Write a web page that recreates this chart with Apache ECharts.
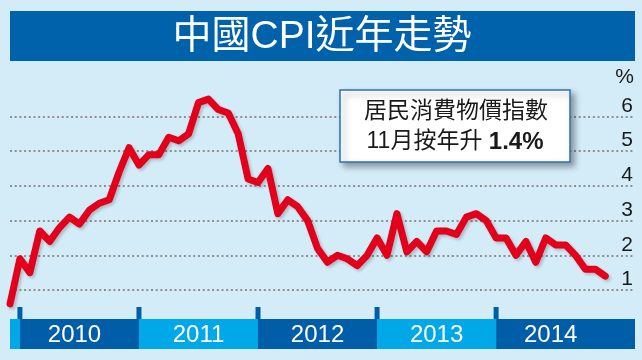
<!DOCTYPE html>
<html><head><meta charset="utf-8">
<script src="https://cdn.jsdelivr.net/npm/echarts@6/dist/echarts.min.js"></script>
<style>html,body{margin:0;padding:0;background:#d4ebf8}#c{width:642px;height:360px}</style>
</head><body><div id="c"></div>
<script>
// ---- data ----
const firstMonth = '2009-11';
const lastAxisMonth = '2015-02';
const cpi = [
  0.6, 1.9,
  1.5, 2.7, 2.4, 2.8, 3.1, 2.9, 3.3, 3.5, 3.6, 4.4, 5.1, 4.6,
  4.9, 4.9, 5.4, 5.3, 5.5, 6.4, 6.5, 6.2, 6.1, 5.5, 4.2, 4.1,
  4.5, 3.2, 3.6, 3.4, 3.0, 2.2, 1.8, 2.0, 1.9, 1.7, 2.0, 2.5,
  2.0, 3.2, 2.1, 2.4, 2.1, 2.7, 2.7, 2.6, 3.1, 3.2, 3.0, 2.5,
  2.5, 2.0, 2.4, 1.8, 2.5, 2.3, 2.3, 2.0, 1.6, 1.6, 1.4
];
const yTickLabels = [1, 2, 3, 4, 5, 6];
const bandFrom   = ['2009-11', '2009-12', '2010-12', '2011-12', '2012-12', '2013-12'];
const bandTo     = ['2009-12', '2010-12', '2011-12', '2012-12', '2013-12', '2015-02'];
const bandLabels = ['', '2010', '2011', '2012', '2013', '2014'];
const labelFrom  = ['2009-11', '2009-11', '2010-12', '2011-12', '2012-12', '2013-12'];
const labelTo    = ['2009-12', '2010-12', '2011-12', '2012-12', '2013-12', '2014-11'];
const tickMonths = ['2009-12', '2010-12', '2011-12', '2012-12', '2013-12'];
const titleText = '中國CPI近年走勢';
const noteLine1 = '居民消費物價指數';
const noteLine2 = '11月按年升 ';
const noteValue = '1.4%';
const unitText = '%';

function monthRange(a, b) {
  let [y, m] = a.split('-').map(Number);
  const [by, bm] = b.split('-').map(Number);
  const out = [];
  while (y < by || (y === by && m <= bm)) {
    out.push(y + '-' + String(m).padStart(2, '0'));
    m++; if (m > 12) { m = 1; y++; }
  }
  return out;
}
const months = monthRange(firstMonth, lastAxisMonth);
const idx = s => months.indexOf(s);

const bandData = bandFrom.map((f, i) => [idx(f), idx(bandTo[i]), idx(labelFrom[i]), idx(labelTo[i])]);
const tickData = tickMonths.map(s => [idx(s), 1]);

const LAT = 'Liberation Sans, Arial, Noto Sans CJK TC, sans-serif';
const chart = echarts.init(document.getElementById('c'), null, {renderer: 'canvas'});
const DARK = '#005da7', LIGHT = '#00a8e8';

chart.setOption({
  backgroundColor: '#d4ebf8',
  animation: false,
  grid: [
    {left: 10, right: 7, top: 81.8, bottom: 35.3},
    {left: 10, right: 7, top: 319, height: 30}
  ],
  xAxis: [
    {type: 'category', data: months, boundaryGap: false, gridIndex: 0,
     axisLine: {show: false}, axisTick: {show: false}, axisLabel: {show: false}, splitLine: {show: false}},
    {type: 'category', data: months, boundaryGap: false, gridIndex: 1, show: false}
  ],
  yAxis: [
    {type: 'value', gridIndex: 0, min: 0, max: 7, interval: 1, position: 'right',
     axisLine: {show: false}, axisTick: {show: false},
     name: unitText, nameLocation: 'end', nameGap: 5,
     nameTextStyle: {fontFamily: LAT, fontSize: 21, color: '#1a1a1a', align: 'right', verticalAlign: 'middle', padding: [0, 1, 0, 0]},
     axisLabel: {inside: true, margin: 2, fontFamily: LAT, fontSize: 21, color: '#1a1a1a',
       verticalAlign: 'bottom', showMinLabel: false, showMaxLabel: false,
       formatter: v => yTickLabels.includes(v) ? String(v) : ''},
     splitLine: {show: true, showMinLine: false, showMaxLine: false,
       lineStyle: {color: '#8f8f8f', width: 2, type: [2, 2.7]}}},
    {type: 'value', gridIndex: 1, min: 0, max: 1, show: false}
  ],
  series: [
    {type: 'line', xAxisIndex: 0, yAxisIndex: 0, data: cpi, symbol: 'none', z: 5,
     lineStyle: {color: '#e3001b', width: 7, cap: 'round', join: 'round',
       shadowColor: 'rgba(0,0,0,0.2)', shadowBlur: 3, shadowOffsetX: 2, shadowOffsetY: 2}},
    {type: 'custom', xAxisIndex: 1, yAxisIndex: 1, data: bandData, silent: true,
     encode: {x: [0, 1]},
     renderItem: (params, api) => {
       const i = params.dataIndex;
       const x0 = api.coord([api.value(0), 0])[0];
       const x1 = api.coord([api.value(1), 0])[0];
       const lx0 = api.coord([api.value(2), 0])[0];
       const lx1 = api.coord([api.value(3), 0])[0];
       const top = api.coord([0, 1])[1];
       const bot = api.coord([0, 0])[1];
       return {type: 'group', children: [
         {type: 'rect', shape: {x: x0, y: top, width: x1 - x0, height: bot - top},
          style: {fill: bandLabels[i] && (i % 2 === 1) ? DARK : LIGHT}},
         {type: 'text', style: {text: bandLabels[i], x: (lx0 + lx1) / 2, y: (top + bot) / 2 + 1,
          align: 'center', verticalAlign: 'middle', fill: '#fff', font: '24px ' + LAT}}
       ]};
     }},
    {type: 'custom', xAxisIndex: 1, yAxisIndex: 1, data: tickData, silent: true,
     encode: {x: 0, y: 1},
     renderItem: (params, api) => {
       const p = api.coord([api.value(0), 1]);
       return {type: 'rect', shape: {x: p[0] - 2.5, y: p[1] - 12, width: 5, height: 12},
         style: {fill: DARK}};
     }}
  ],
  graphic: [
    {type: 'rect', shape: {x: 10, y: 11, width: 625, height: 50}, style: {fill: '#0062aa'}, z: 10},
    {type: 'text', z: 11, style: {text: titleText, x: 322, y: 37, align: 'center', verticalAlign: 'middle',
      fill: '#fff', font: '39px ' + LAT}},
    {type: 'rect', z: 10, shape: {x: 340, y: 90, width: 230, height: 72},
     style: {fill: '#fff', stroke: '#2a72b8', lineWidth: 1.5,
       shadowBlur: 6, shadowOffsetX: 4, shadowOffsetY: 4, shadowColor: 'rgba(0,0,0,0.35)'}},
    {type: 'text', z: 11, style: {text: noteLine1, x: 456, y: 112, align: 'center', verticalAlign: 'middle',
      fill: '#1a1a1a', font: '23px ' + LAT}},
    {type: 'text', z: 11, style: {text: '{n|' + noteLine2 + '}{b|' + noteValue + '}', x: 455, y: 142,
      align: 'center', verticalAlign: 'middle',
      rich: {n: {font: '23px ' + LAT, fill: '#1a1a1a'}, b: {font: 'bold 24px ' + LAT, fill: '#1a1a1a'}}}}
  ]
});
</script></body></html>
